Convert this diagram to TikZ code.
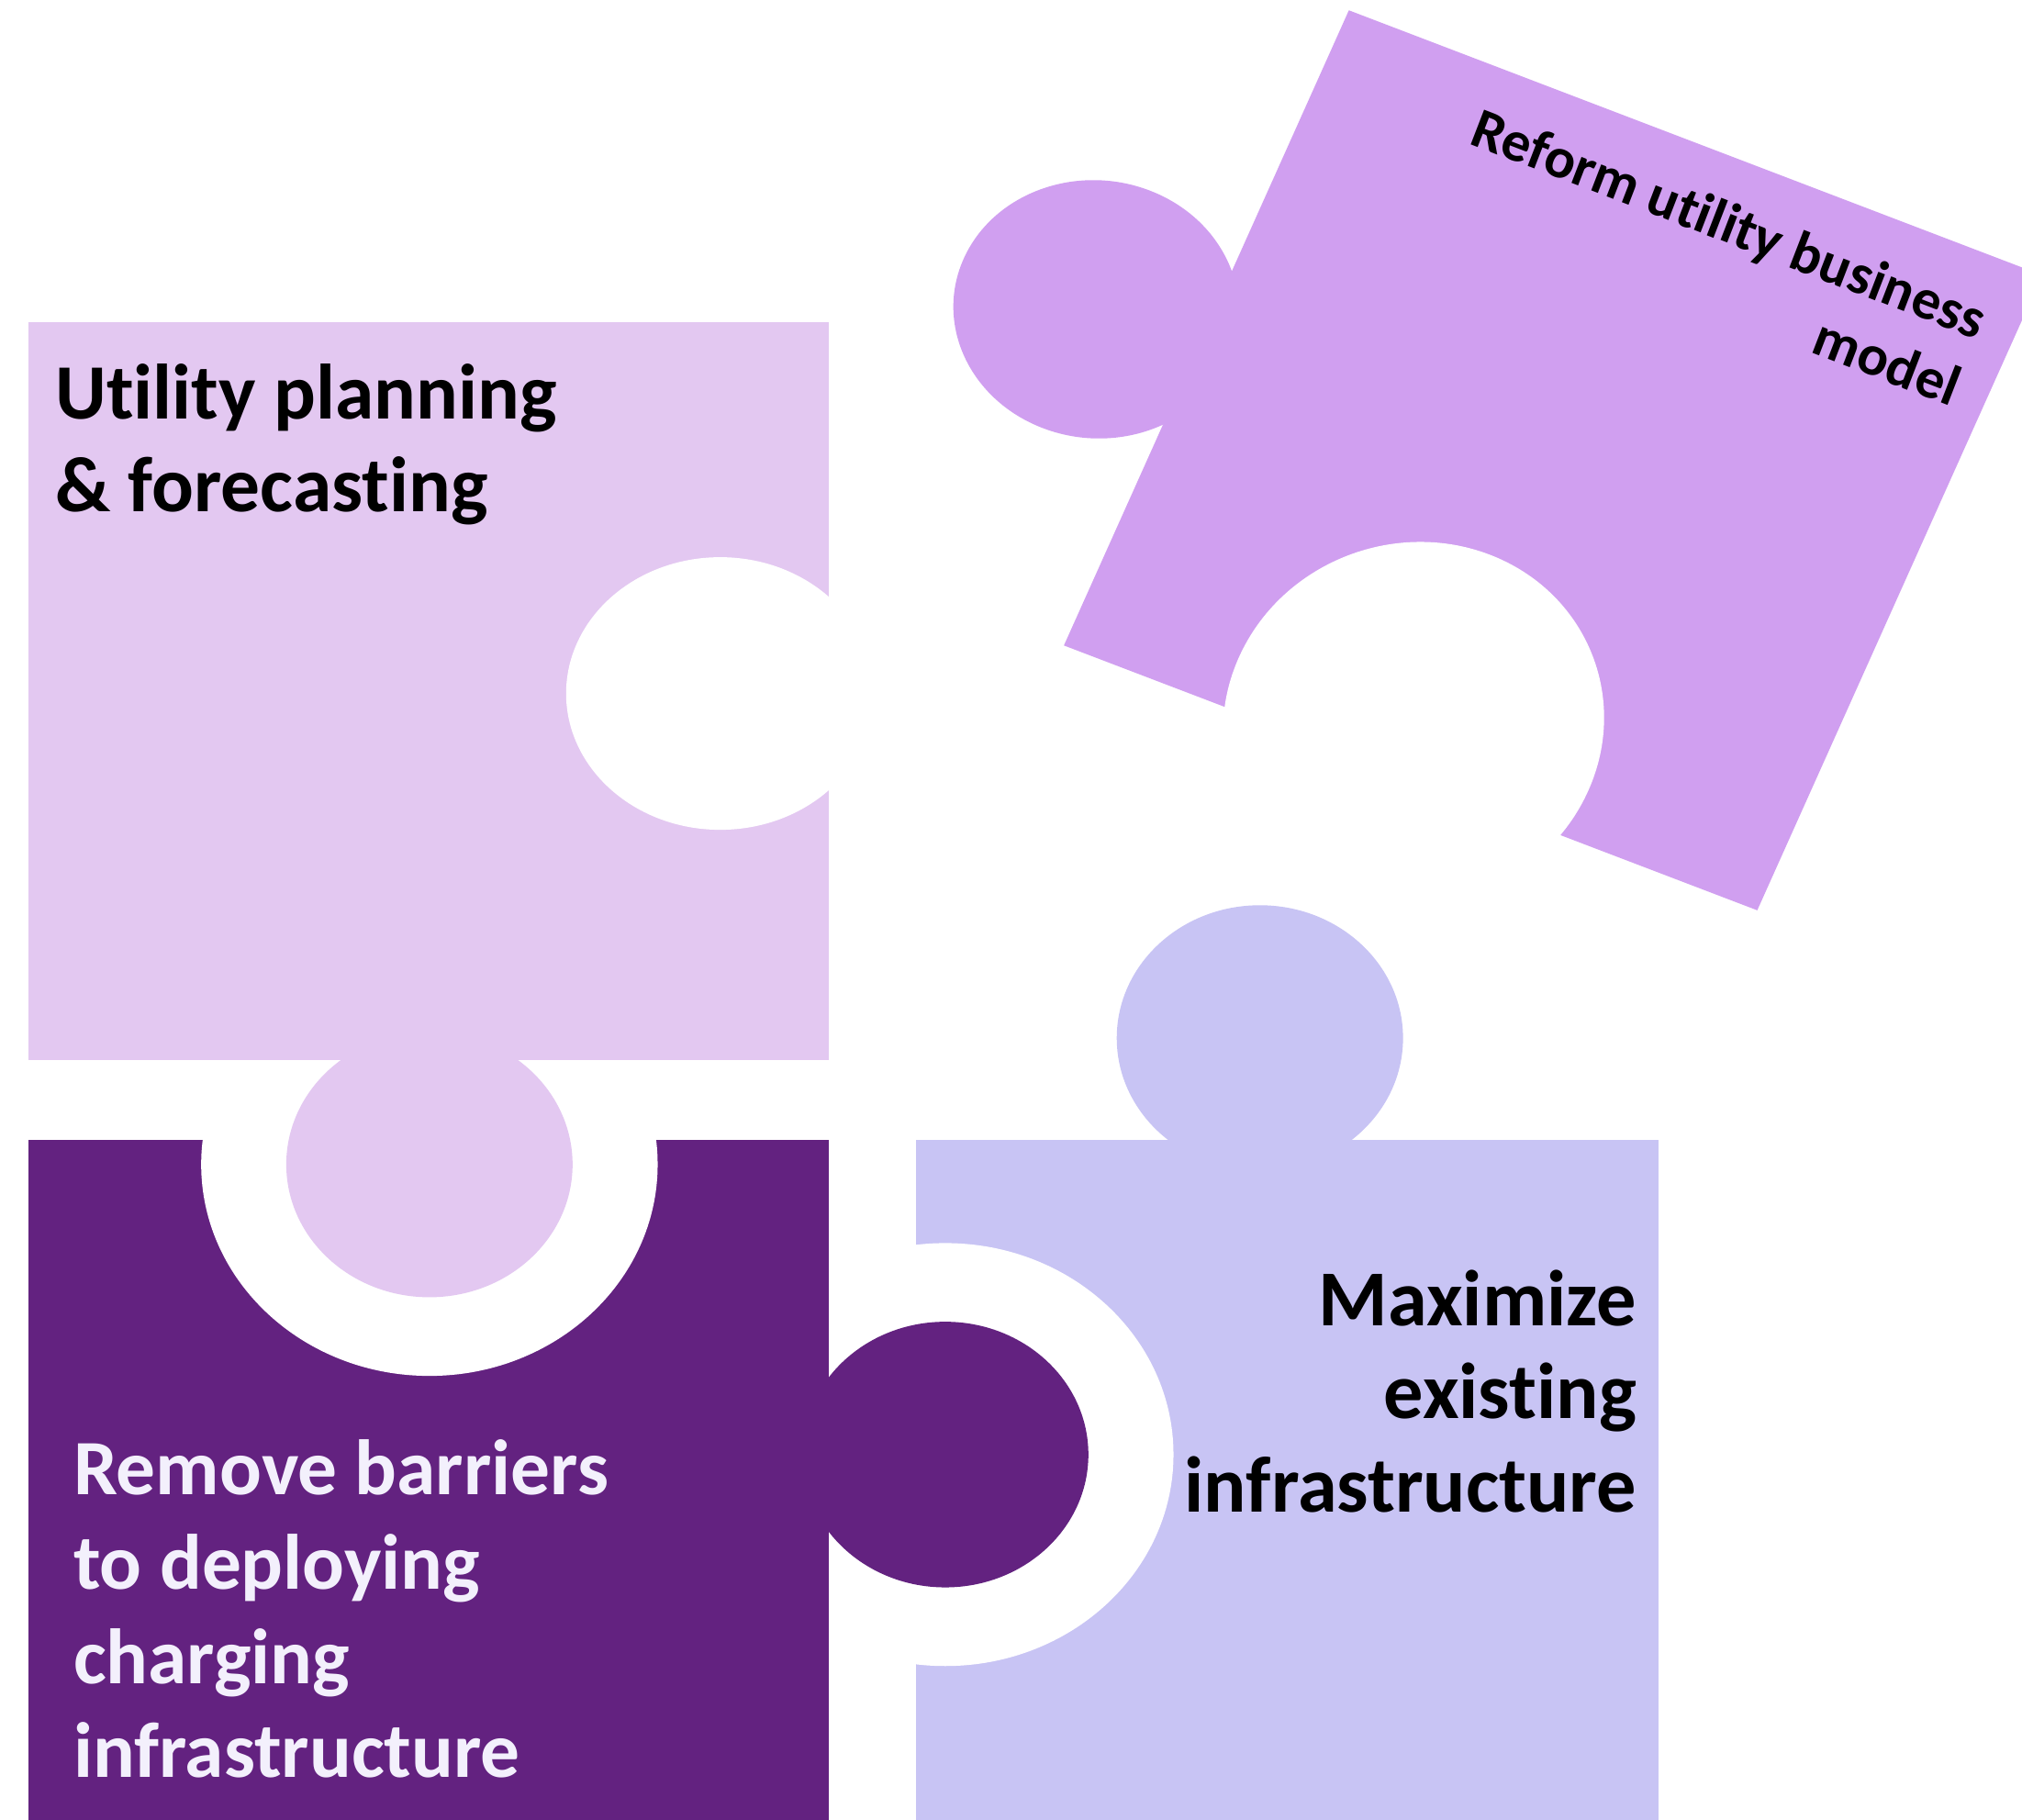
\documentclass[tikz,border=0pt]{standalone}
\usepackage{fontspec}
\setmainfont[Ligatures={NoCommon}]{Carlito}
\definecolor{lightpc}{HTML}{E3C8F1}
\definecolor{rotpc}{HTML}{D09FF0}
\definecolor{darkpc}{HTML}{632280}
\definecolor{bluepc}{HTML}{C8C4F4}
\definecolor{darktext}{HTML}{F3F0FC}
\begin{document}
\begin{tikzpicture}[x=1pt,y=-1pt,
  piecetext/.style={inner sep=0pt, outer sep=0pt}]
\clip (0,0) rectangle (1568,1411);
\fill[white] (0,0) rectangle (1568,1411);
% blue piece body and its notch
\fill[bluepc] (710,884) rectangle (1286,1420);
\fill[white] (733,1128) ellipse [x radius=177, y radius=164];
% dark piece body and its notch
\fill[darkpc] (22,884) rectangle (643,1420);
\fill[white] (333,903) ellipse [x radius=177, y radius=164];
% light piece body and its notch
\fill[lightpc] (22,250) rectangle (643,822);
\fill[white] (558.5,537.8) ellipse [x radius=119.5, y radius=105.7];
% tabs
\fill[lightpc] (333,903) ellipse [x radius=111, y radius=103];
\fill[darkpc] (733,1128) ellipse [x radius=111, y radius=103];
\fill[bluepc] (977,805) ellipse [x radius=111, y radius=103];
% rotated piece
\begin{scope}[shift={(1046,8)}, x={(0.9341pt,-0.3568pt)}, y={(-0.4093pt,-0.9123pt)}]
  \fill[rotpc] (0,0) -- (575.6,0) -- (575.6,539.9) -- (0,539.9) -- cycle;
  \fill[white] (272.8,500) ellipse [x radius=145, y radius=144];
  \fill[rotpc] (-84,287) ellipse [x radius=110, y radius=101];
\end{scope}
% texts
\node[piecetext, anchor=base west, font=\bfseries\fontsize{60.8}{72}\selectfont] (utility) at (43,325)
  {\begin{tabular}[t]{@{}l@{}}Utility planning\\\& forecasting\end{tabular}};
\node[piecetext, anchor=base west, text=darktext, font=\bfseries\fontsize{60.8}{73.2}\selectfont] (remove) at (57,1159)
  {\begin{tabular}[t]{@{}l@{}}Remove barriers\\to deploying\\charging\\infrastructure\end{tabular}};
\node[piecetext, anchor=base east, font=\bfseries\fontsize{61.5}{72.3}\selectfont] (maximize) at (1269,1028)
  {\begin{tabular}[t]{@{}r@{}}Maximize\\existing\\infrastructure\end{tabular}};
\node[piecetext, anchor=base east, rotate=-21.1, font=\bfseries\fontsize{44.5}{55.6}\selectfont] (reform) at (1533,263.4)
  {\begin{tabular}[t]{@{}r@{}}Reform utility business\\model\end{tabular}};
\end{tikzpicture}
\end{document}
